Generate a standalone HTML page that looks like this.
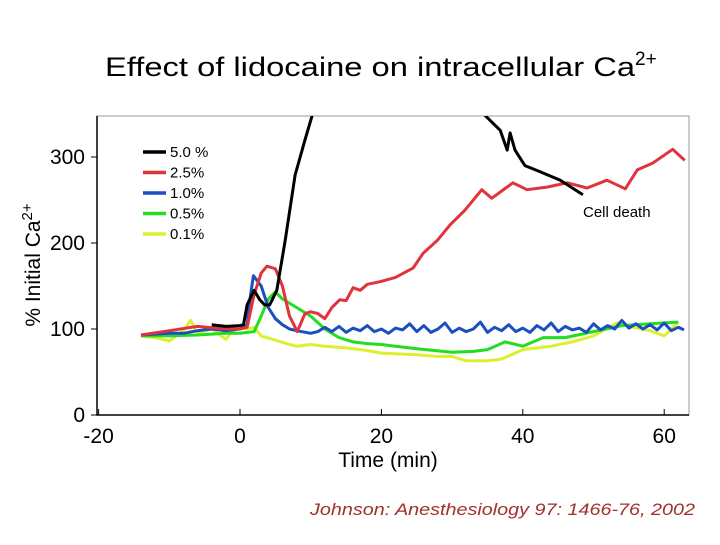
<!DOCTYPE html>
<html><head><meta charset="utf-8"><style>
body{margin:0;background:#fff;width:720px;height:540px;overflow:hidden;font-family:"Liberation Sans",sans-serif}
</style></head><body>
<svg id="c" width="720" height="540" xmlns="http://www.w3.org/2000/svg">
<text x="105" y="76" font-size="27" fill="#000"><tspan textLength="530" lengthAdjust="spacingAndGlyphs">Effect of lidocaine on intracellular Ca</tspan><tspan dy="-11" font-size="19">2+</tspan></text>
<text x="310" y="515" font-size="17" font-style="italic" fill="#a0302c" textLength="385" lengthAdjust="spacingAndGlyphs">Johnson: Anesthesiology 97: 1466-76, 2002</text>
<text x="583" y="217" font-size="15" fill="#000">Cell death</text>
<g id="plot"></g>
</svg>
<script>
const xTicks=[-20,0,20,40,60];
const yTicks=[0,100,200,300];
const seriesNames=["5.0 %","2.5%","1.0%","0.5%","0.1%"];
const seriesColors=["#000000","#e0343c","#1a4fc0","#22dd22","#ddf030"];
const black=[[-4,105],[-2,103],[0,104],[0.5,105],[1,128],[2,145],[2.8,134],[3.5,128],[4.2,128],[5.2,145],[6.4,203],[7.8,279],[9.2,320],[10.2,348],[11,375],[34,375],[34.7,348],[36.8,331],[37.8,308],[38.2,328],[38.9,308],[40.3,290],[42.4,283],[45.3,273],[48.5,256]];
const red=[[-14,93],[-10,98],[-6,103],[-2,100],[0,100],[1,102],[2,140],[3,165],[3.8,173],[5,170],[6,150],[7,115],[8.1,97],[9.2,118],[10,120],[11,118],[12,112],[13,125],[14.1,134],[15,133],[16,148],[17,145],[18,152],[19.8,155],[22,160],[24.5,171],[25.9,188],[27.9,203],[29.7,221],[31.8,238],[34.2,262],[35.6,252],[38.6,270],[40.6,262],[43.4,265],[46.3,270],[49.1,264],[51.9,273],[54.5,263],[56.2,285],[58.4,293],[61.2,309],[62.9,296]];
const blue=[[-14,93],[-10,95],[-8,95],[-6,98],[-4,100],[-2,98],[0,100],[1,105],[1.5,140],[1.9,162],[3,150],[4,125],[5,112],[6,105],[7,100],[8,98],[10,95],[11,97],[12,102],[13,97],[14,103],[15,96],[16,101],[17,98],[18,104],[19,97],[20,100],[21,95],[22,101],[23,99],[24,106],[25,97],[26,104],[27,96],[28,100],[29,107],[30,96],[31,101],[32,97],[33,100],[34,108],[35,96],[36,102],[37,98],[38,105],[39,97],[40,101],[41,96],[42,104],[43,99],[44,107],[45,97],[46,103],[47,99],[48,101],[49,96],[50,106],[51,99],[52,104],[53,100],[54,110],[55,101],[56,106],[57,100],[58,105],[59,99],[60,107],[61,98],[62,102],[62.8,99]];
const green=[[-14,92],[-10,92],[-6,93],[-2,95],[0,95],[2,97],[3,115],[4,135],[5,143],[6,135],[8,125],[10,115],[12,100],[14,90],[16,85],[18,83],[20,82],[22,80],[25,77],[30,73],[33,74],[35,76],[37.5,85],[40,80],[42.9,90],[46,90],[50,97],[54,104],[58,106],[62,108]];
const yellow=[[-14,92],[-12,90],[-10,86],[-8,98],[-7,110],[-6,95],[-4,100],[-2,88],[-0.5,103],[1,100],[2,102],[3,92],[5,87],[7,82],[8,80],[10,82],[12,80],[15,78],[18,75],[20,72],[25,70],[28,68],[30,68],[32,63],[35,63],[37,65],[40,76],[44,80],[47,85],[50,92],[53.3,107],[55,103],[58,98],[60,92],[62,108]];
const allSeries=[black,red,blue,green,yellow];
const L=97,R=689,T=116,B=415;
const xs=t=>240+t*7.07;
const ys=v=>415-v*0.86;
const NS="http://www.w3.org/2000/svg";
const g=document.getElementById('plot');
function mk(tag,attrs){const e=document.createElementNS(NS,tag);for(const k in attrs)e.setAttribute(k,attrs[k]);g.appendChild(e);return e;}
const defs=mk('clipPath',{id:'clip'});
const cr=document.createElementNS(NS,'rect');cr.setAttribute('x',L);cr.setAttribute('y',T);cr.setAttribute('width',R-L);cr.setAttribute('height',B-T);defs.appendChild(cr);
let fr=mk('rect',{x:L,y:T,width:R-L,height:B-T,fill:'none',stroke:'#999','stroke-width':1});


let ax=mk('path',{d:`M${L},${T}V${B}H${R}`,fill:'none',stroke:'#000','stroke-width':1.5});


xTicks.forEach(t=>{
 mk('line',{x1:xs(t),x2:xs(t),y1:B,y2:B-6,stroke:'#000'});
 const tx=mk('text',{x:xs(t),y:B+28,'text-anchor':'middle','font-size':21});tx.textContent=t;
 
 
});
yTicks.forEach(v=>{
 mk('line',{x1:L,x2:L-6,y1:ys(v),y2:ys(v),stroke:'#000'});
 const tx=mk('text',{x:L-12,y:ys(v)+7,'text-anchor':'end','font-size':21});tx.textContent=v;
 
 
});
let xt=mk('text',{x:388,y:467,'text-anchor':'middle','font-size':21});xt.textContent='Time (min)';


let yt=mk('text',{transform:'translate(40,265) rotate(-90)','text-anchor':'middle','font-size':21});
yt.innerHTML='% Initial Ca<tspan dy="-8" font-size="15">2+</tspan>';


const order=[4,3,2,1,0];
order.forEach(i=>{
 const d=allSeries[i].map((p,j)=>(j?'L':'M')+xs(p[0]).toFixed(1)+','+ys(p[1]).toFixed(1)).join('');
 const p=mk('path',{d,fill:'none',stroke:seriesColors[i],'stroke-width':3,'stroke-linejoin':'round','clip-path':'url(#clip)'});
 
 
});
seriesNames.forEach((n,i)=>{
 const y=152+i*20.5;
 mk('line',{x1:143,x2:166,y1:y,y2:y,stroke:seriesColors[i],'stroke-width':3.5});
 const tx=mk('text',{x:170,y:y+5,'font-size':15});tx.textContent=n;
 
 
});
</script>
</body></html>
